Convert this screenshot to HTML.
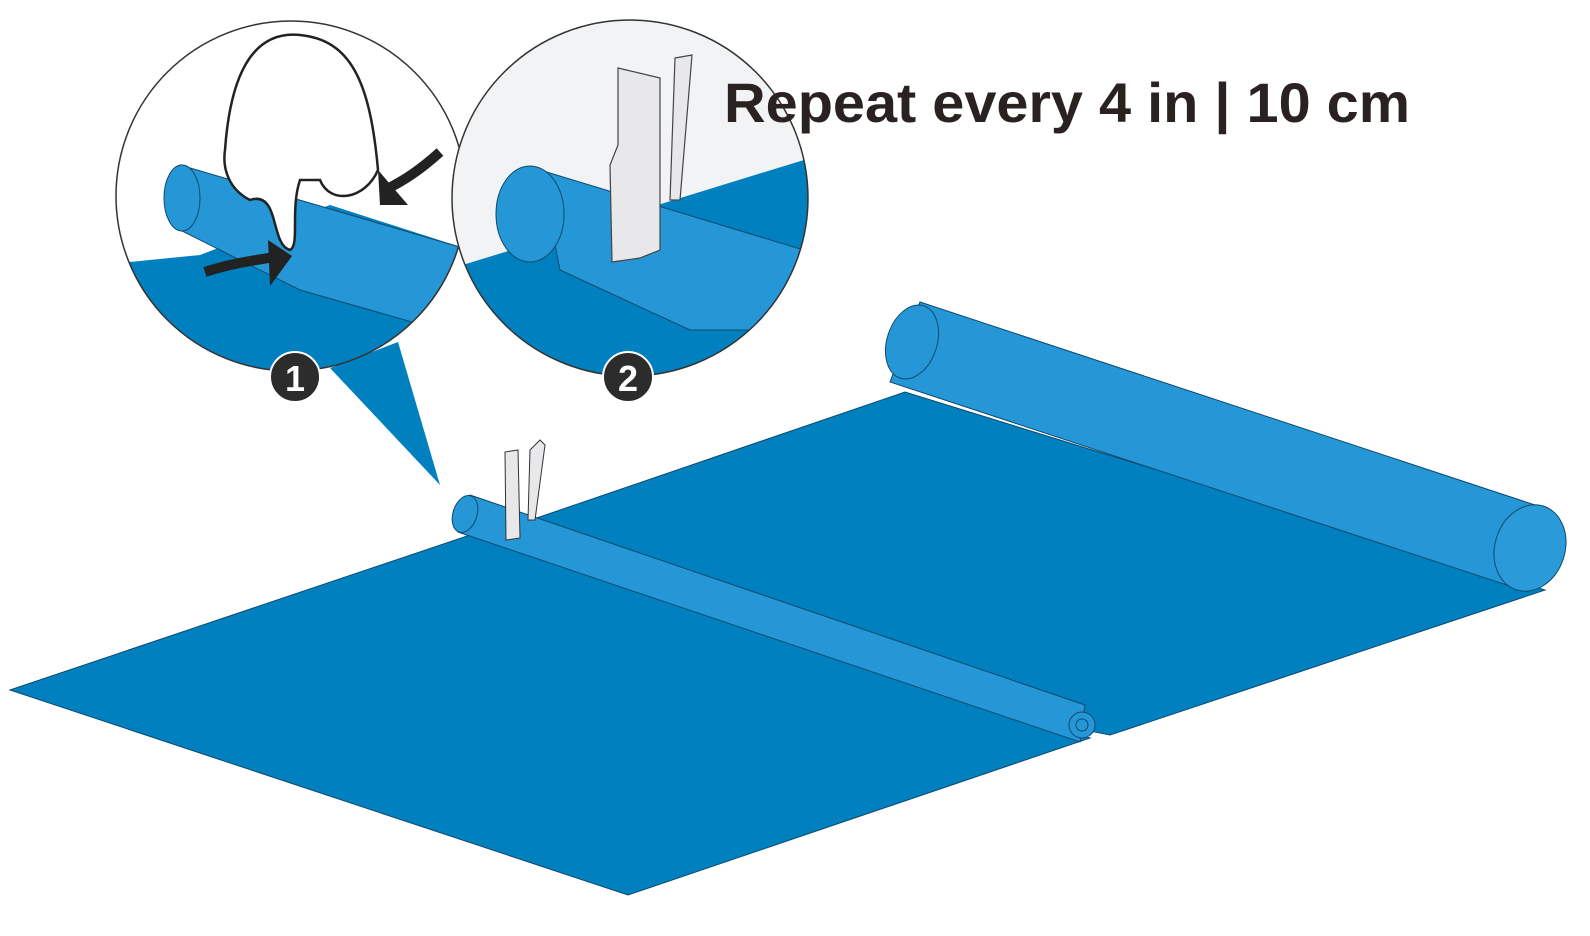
<!DOCTYPE html>
<html><head><style>html,body{margin:0;padding:0;background:#fff;width:1590px;height:936px;overflow:hidden}</style></head>
<body>
<svg width="1590" height="936" viewBox="0 0 1590 936" xmlns="http://www.w3.org/2000/svg">
<defs>
<clipPath id="c1"><circle cx="291" cy="196" r="175"/></clipPath>
<clipPath id="c2"><circle cx="630" cy="198" r="178"/></clipPath>
</defs>
<!-- sheets -->
<polygon points="10,690 470,535 1090,738 628,895" fill="#0180c0" stroke="#0d4a6e" stroke-width="1"/>
<polygon points="525,522 905,392 1545,590 1110,735 1085,730" fill="#0180c0" stroke="#0d4a6e" stroke-width="1"/>
<!-- big roll -->
<polygon points="920,302 1535,505 1528,592 890,382" fill="#2596d6" stroke="#0d4a6e" stroke-width="1"/>
<ellipse cx="912" cy="342" rx="25" ry="38" transform="rotate(18 912 342)" fill="#2596d6" stroke="#0d4a6e"/>
<ellipse cx="1530" cy="548" rx="35" ry="44" transform="rotate(18 1530 548)" fill="#2b9ad8" stroke="#0d4a6e"/>
<!-- thin roll -->
<polygon points="470,495 1085,705 1080,742 458,532" fill="#2596d6" stroke="#0d4a6e" stroke-width="1"/>
<ellipse cx="465" cy="514" rx="12" ry="19" transform="rotate(18 465 514)" fill="#2596d6" stroke="#0d4a6e"/>
<circle cx="1082" cy="725" r="13" fill="#2596d6" stroke="#0d4a6e"/>
<circle cx="1082" cy="725" r="6" fill="none" stroke="#0d4a6e"/>
<!-- small stapler -->
<polygon points="505,452 518,450 520,538 506,540" fill="#e8e8ea" stroke="#333" stroke-width="1"/>
<polygon points="530,450 540,440 545,445 535,520 528,520" fill="#e8e8ea" stroke="#333" stroke-width="1"/>
<!-- callout -->
<polygon points="330,368 398,342 440,485" fill="#0180c0"/>
<!-- circle 1 -->
<g clip-path="url(#c1)">
<rect x="100" y="0" width="400" height="400" fill="#fff"/>
<polygon points="100,265 200,255 330,205 470,250 470,400 100,400" fill="#0180c0"/>
<polygon points="180,165 470,250 470,300 440,330 300,290 180,230" fill="#2596d6" stroke="#0d4a6e"/>
<ellipse cx="182" cy="198" rx="18" ry="33" fill="#2596d6" stroke="#0d4a6e"/>
<path d="M225,150 C230,80 250,30 300,35 C350,40 370,80 378,170 C365,200 330,205 320,180 L300,180 C290,210 300,245 290,250 C270,245 280,190 250,200 C230,190 222,170 225,150Z" fill="#fff" stroke="#222" stroke-width="2.5"/>
<path d="M205,272 C235,262 260,260 285,255" stroke="#222" stroke-width="10" fill="none"/>
<polygon points="268,240 292,256 270,286" fill="#222"/>
<path d="M440,152 C420,170 405,180 385,190" stroke="#222" stroke-width="10" fill="none"/>
<polygon points="378,170 380,205 408,205" fill="#222"/>
</g>
<circle cx="291" cy="196" r="175" fill="none" stroke="#333" stroke-width="1.5"/>
<!-- circle 2 -->
<g clip-path="url(#c2)">
<rect x="440" y="10" width="380" height="380" fill="#f2f3f5"/>
<polygon points="440,272 820,155 820,400 440,400" fill="#0180c0"/>
<polygon points="540,170 820,255 820,300 800,330 690,330 560,270" fill="#2596d6" stroke="#0d4a6e"/>
<ellipse cx="530" cy="214" rx="34" ry="48" fill="#2596d6" stroke="#0d4a6e"/>
<polygon points="618,68 660,78 660,250 640,258 612,262 610,165 618,145" fill="#e8e8ea" stroke="#444" stroke-width="1.2"/>
<polygon points="675,58 692,55 680,200 670,200" fill="#e8e8ea" stroke="#444" stroke-width="1.2"/>
</g>
<circle cx="630" cy="198" r="178" fill="none" stroke="#333" stroke-width="1.5"/>
<!-- badges -->
<circle cx="295" cy="377" r="25" fill="#2c2c2c" stroke="#fff" stroke-width="2"/>
<text x="295" y="391" font-family="Liberation Sans, sans-serif" font-size="36" font-weight="bold" fill="#fff" text-anchor="middle">1</text>
<circle cx="628" cy="377" r="25" fill="#2c2c2c" stroke="#fff" stroke-width="2"/>
<text x="628" y="391" font-family="Liberation Sans, sans-serif" font-size="36" font-weight="bold" fill="#fff" text-anchor="middle">2</text>
<text x="724" y="122" font-family="Liberation Sans, sans-serif" font-size="56" font-weight="bold" fill="#2a2220" textLength="686" lengthAdjust="spacingAndGlyphs">Repeat every 4 in | 10 cm</text>
</svg>
</body></html>
